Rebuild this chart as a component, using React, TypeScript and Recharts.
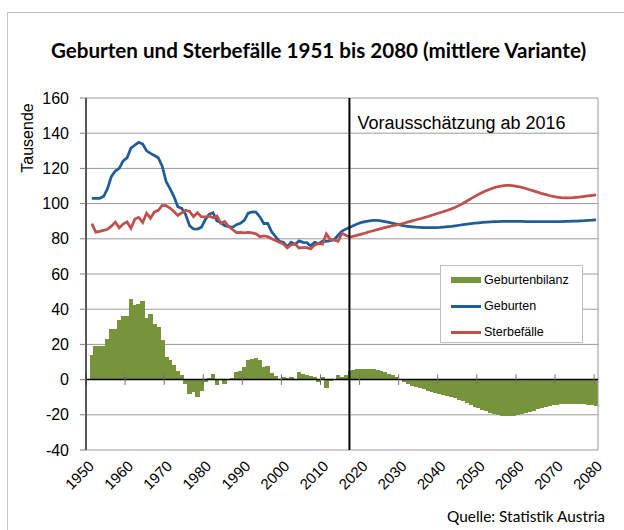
import React from 'react'
import { ComposedChart, Bar, Line, XAxis, YAxis, CartesianGrid, ReferenceLine, Legend } from 'recharts'

// Jahre 1951-2080, ein Wert pro Jahr (Tausende)
const FIRST_YEAR = 1951

const births = [
  103.0, 103.0, 103.0, 104.0, 108.5, 115.5, 118.5, 120.0, 124.3, 126.0,
  131.5, 133.3, 134.8, 133.8, 130.0, 128.5, 127.3, 126.0, 121.3, 112.5,
  108.5, 104.0, 98.2, 97.3, 93.8, 87.5, 85.6, 85.5, 86.5, 90.8,
  93.9, 94.8, 90.2, 89.2, 87.5, 87.0, 86.5, 88.0, 88.8, 90.5,
  94.6, 95.3, 95.2, 92.4, 88.7, 88.8, 84.0, 81.2, 78.5, 78.0,
  75.5, 78.0, 76.8, 78.8, 78.0, 77.8, 76.0, 78.0, 77.3, 78.7,
  78.5, 79.0, 79.5, 82.0, 84.4, 85.5, 86.5, 87.6, 88.6, 89.3,
  89.8, 90.2, 90.4, 90.4, 90.2, 89.8, 89.3, 88.8, 88.3, 87.8,
  87.4, 87.0, 86.8, 86.6, 86.5, 86.4, 86.3, 86.3, 86.4, 86.5,
  86.7, 86.9, 87.1, 87.4, 87.7, 88.0, 88.3, 88.6, 88.9, 89.1,
  89.3, 89.5, 89.6, 89.7, 89.8, 89.9, 89.9, 89.9, 89.9, 89.9,
  89.9, 89.8, 89.8, 89.7, 89.7, 89.7, 89.7, 89.7, 89.7, 89.8,
  89.8, 89.9, 89.9, 90.0, 90.1, 90.2, 90.3, 90.5, 90.6, 90.8,
]

const deaths = [
  88.6, 83.8, 84.2, 84.8, 85.4, 87.2, 89.5, 86.2, 88.4, 89.6,
  86.0, 91.2, 92.2, 89.3, 94.6, 91.7, 95.3, 96.2, 99.0, 98.8,
  97.5, 95.5, 93.3, 94.8, 96.2, 95.5, 92.6, 94.8, 92.6, 92.4,
  93.0, 92.0, 93.0, 88.8, 89.8, 87.0, 85.3, 83.5, 83.6, 83.4,
  83.6, 83.4, 82.8, 81.2, 81.6, 81.2, 80.0, 79.0, 78.0, 77.0,
  74.8, 76.6, 77.1, 74.8, 75.0, 75.0, 74.2, 76.4, 77.4, 77.0,
  82.8, 79.6, 79.4, 78.6, 83.1, 82.0, 81.0, 81.5, 82.1, 82.7,
  83.3, 84.0, 84.6, 85.2, 85.8, 86.4, 86.9, 87.4, 87.9, 88.4,
  89.0, 89.6, 90.2, 90.8, 91.4, 92.0, 92.7, 93.4, 94.1, 94.8,
  95.5, 96.2, 97.0, 97.9, 99.0, 100.2, 101.5, 102.8, 104.1, 105.3,
  106.4, 107.4, 108.3, 109.1, 109.7, 110.1, 110.3, 110.3, 110.1, 109.7,
  109.2, 108.6, 107.9, 107.2, 106.5, 105.8, 105.2, 104.6, 104.1, 103.7,
  103.4, 103.3, 103.3, 103.4, 103.6, 103.8, 104.1, 104.4, 104.7, 105.0,
]

const balance = [
  14.1, 19.2, 19.0, 19.2, 23.2, 28.6, 29.0, 33.7, 36.2, 36.2,
  45.7, 42.3, 43.2, 44.6, 35.2, 37.0, 31.8, 29.9, 22.3, 13.1,
  10.9, 8.4, 5.1, 2.5, -2.5, -8.2, -6.9, -9.7, -6.3, -1.5,
  0.8, 2.9, -3.0, 0.4, -2.5, 0.0, 1.1, 4.6, 5.1, 7.0,
  10.9, 11.8, 12.4, 11.2, 7.0, 7.6, 4.0, 2.3, 0.4, 1.3,
  0.8, 1.7, -0.2, 4.2, 3.2, 2.8, 2.3, 1.3, -1.1, 1.7,
  -4.7, -0.6, -0.2, 2.8, 1.3, 2.8, 4.8, 5.4, 5.8, 6.1,
  6.3, 6.3, 6.1, 5.7, 5.1, 4.3, 3.4, 2.4, 1.3, 0.0,
  -1.3, -2.4, -3.4, -4.3, -5.0, -5.6, -6.3, -7.0, -7.7, -8.3,
  -8.9, -9.4, -10.0, -10.6, -11.4, -12.3, -13.3, -14.3, -15.3, -16.3,
  -17.2, -18.0, -18.8, -19.5, -20.0, -20.4, -20.6, -20.6, -20.4, -20.0,
  -19.4, -18.8, -18.2, -17.6, -16.9, -16.3, -15.7, -15.1, -14.6, -14.2,
  -13.9, -13.7, -13.6, -13.6, -13.7, -13.8, -14.0, -14.2, -14.5, -14.8,
]

const seriesNames = ['Geburtenbilanz', 'Geburten', 'Sterbefälle']
const xTicks = [1950, 1960, 1970, 1980, 1990, 2000, 2010, 2020, 2030, 2040, 2050, 2060, 2070, 2080]
const yTicks = [-40, -20, 0, 20, 40, 60, 80, 100, 120, 140, 160]
const X_DOMAIN = [1950, 2081]
const PROJECTION_LINE = 2017.4

const CHART_W = 624
const MARGIN = { top: 98, right: 26, bottom: 30, left: 26 }
const Y_AXIS_W = 60
// eine Kategorie = ein Jahr, Balken fuellen die Kategorie ganz aus
const YEAR_PX = (CHART_W - MARGIN.left - MARGIN.right - Y_AXIS_W) / (X_DOMAIN[1] - X_DOMAIN[0])

const data = births.map((b, i) => ({
  x: FIRST_YEAR + i + 0.5,
  Geburtenbilanz: balance[i],
  Geburten: b,
  Sterbefälle: deaths[i],
}))

const YearTick = ({ x, y, payload }: any) => (
  <text
    x={x + 9}
    y={y + 9}
    textAnchor="end"
    fontSize={15}
    fill="#000"
    fontFamily="Liberation Sans, Arial, sans-serif"
    transform={`rotate(-45 ${x + 9} ${y + 9})`}
  >
    {payload.value}
  </text>
)

const SolidBar = (props: any) => {
  const { x, y, width, height, fill } = props
  if (!height) return null
  const top = height < 0 ? y + height : y
  const cx = x + width / 2
  const w = YEAR_PX + 0.8
  return <rect x={cx - w / 2} y={top} width={w} height={Math.abs(height)} fill={fill} shapeRendering="crispEdges" />
}

const renderLegend = (props: any) => {
  const items = [...(props.payload || [])].sort(
    (a: any, b: any) => seriesNames.indexOf(a.value) - seriesNames.indexOf(b.value)
  )
  return (
    <div
      style={{
        width: 141,
        height: 76,
        background: '#fff',
        border: '1px solid #bfbfbf',
        fontFamily: 'Liberation Sans, Arial, sans-serif',
        fontSize: 12.5,
        color: '#000',
        position: 'relative',
      }}
    >
      {items.map((entry: any, i: number) => (
        <div key={entry.value} style={{ position: 'absolute', left: 10, top: 6 + i * 26, height: 16, display: 'flex', alignItems: 'center' }}>
          <div
            style={{
              width: 30,
              height: entry.type === 'rect' ? 6 : 3,
              background: entry.color,
              marginRight: 3,
            }}
          />
          <span>{entry.value}</span>
        </div>
      ))}
    </div>
  )
}

const renderProjectionLabel = (props: any) => {
  const vb = props.viewBox || {}
  return (
    <text x={vb.x + 8} y={vb.y + 31} fontSize={18} fill="#000" fontFamily="Liberation Sans, Arial, sans-serif">
      Vorausschätzung ab 2016
    </text>
  )
}

export default function App() {
  return (
    <div style={{ position: 'absolute', left: 0, top: 0, width: 624, height: 530, background: '#fff', overflow: 'hidden' }}>
      <div style={{ position: 'absolute', left: 7, top: 12, width: 640, height: 540, borderLeft: '1.5px solid #c4c4c4', borderTop: '1.5px solid #c4c4c4' }} />
      <div
        style={{
          position: 'absolute', left: 0, top: 38, width: 637, textAlign: 'center',
          fontFamily: 'Lato, sans-serif', fontWeight: 700, fontSize: 20.6, lineHeight: '24px', color: '#000',
        }}
      >
        Geburten und Sterbefälle 1951 bis 2080 (mittlere Variante)
      </div>
      <div
        style={{
          position: 'absolute', left: -22, top: 128, width: 100, height: 20, lineHeight: '20px', textAlign: 'center',
          transform: 'rotate(-90deg)', fontFamily: 'Liberation Sans, Arial, sans-serif', fontSize: 16, color: '#000',
        }}
      >
        Tausende
      </div>
      <div
        style={{
          position: 'absolute', right: 19, top: 507, fontFamily: 'Lato, sans-serif', fontSize: 15.4, color: '#000',
        }}
      >
        Quelle: Statistik Austria
      </div>
      <div style={{ position: 'absolute', left: 0, top: 0 }}>
        <ComposedChart width={CHART_W} height={530} data={data} margin={MARGIN} barGap={0} barCategoryGap={0}>
          <CartesianGrid horizontal vertical={false} stroke="#9a9a9a" />
          <XAxis
            dataKey="x"
            type="number"
            domain={X_DOMAIN}
            ticks={xTicks}
            interval={0}
            axisLine={false}
            tickLine={false}
            tick={<YearTick />}
            height={50}
          />
          <YAxis
            domain={[-40, 160]}
            ticks={yTicks}
            interval={0}
            width={Y_AXIS_W}
            axisLine={{ stroke: '#222', strokeWidth: 1.5 }}
            tickLine={{ stroke: '#7f7f7f' }}
            tickSize={6}
            tickMargin={11}
            tick={{ fontSize: 16, fill: '#000', fontFamily: 'Liberation Sans, Arial, sans-serif' }}
          />
          <ReferenceLine x={X_DOMAIN[1]} stroke="#9a9a9a" />
          <Bar dataKey="Geburtenbilanz" fill="#77933C" shape={<SolidBar />} isAnimationActive={false} />
          <Line type="linear" dataKey="Geburten" stroke="#1F5C99" strokeWidth={2.75} dot={false} isAnimationActive={false} />
          <Line type="linear" dataKey="Sterbefälle" stroke="#C0504D" strokeWidth={2.75} dot={false} isAnimationActive={false} />
          <ReferenceLine y={0} stroke="#000" strokeWidth={1.5} />
          {xTicks.map((t) => (
            <ReferenceLine key={t} segment={[{ x: t, y: -3 }, { x: t, y: 3 }]} stroke="#6f6f6f" />
          ))}
          <ReferenceLine x={PROJECTION_LINE} stroke="#000" strokeWidth={2} label={renderProjectionLabel} />
          <Legend
            layout="horizontal"
            verticalAlign="middle"
            align="center"
            content={renderLegend}
            wrapperStyle={{ left: 440, top: 265, width: 143, height: 78 }}
          />
        </ComposedChart>
      </div>
    </div>
  )
}
